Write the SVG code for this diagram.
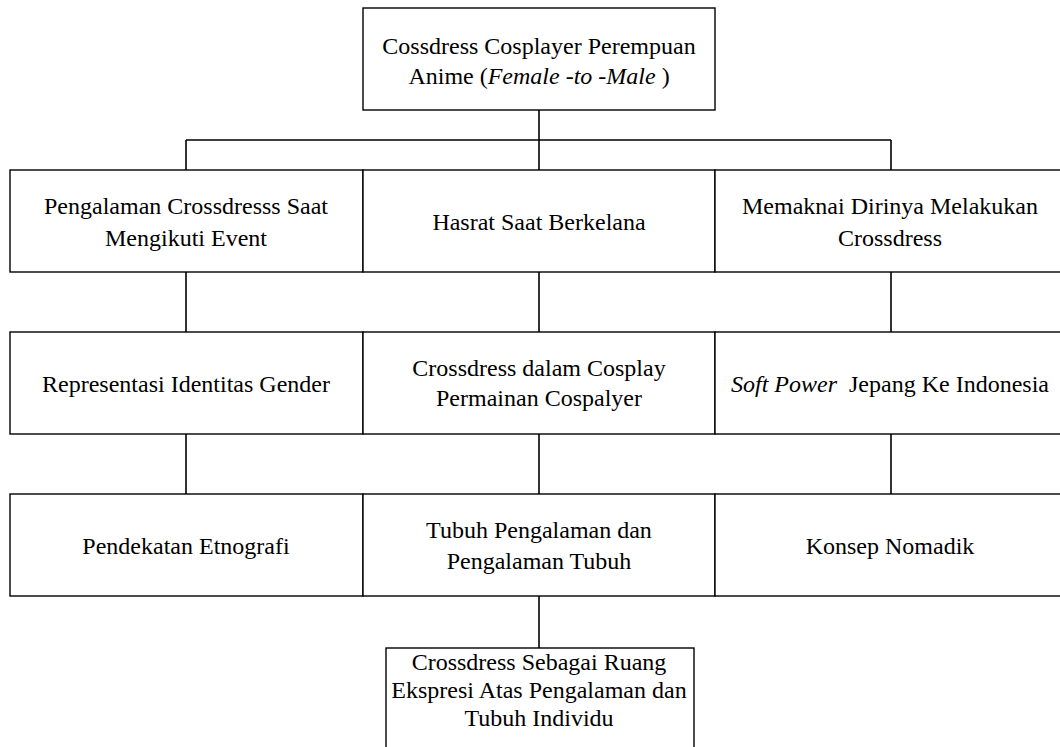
<svg xmlns="http://www.w3.org/2000/svg" width="1060" height="747" viewBox="0 0 1060 747">
<style>
.box{fill:#fff;stroke:#000;stroke-width:1.4}
.ln{stroke:#000;stroke-width:1.6;fill:none}
text{font-family:'Liberation Serif','Times New Roman',serif;font-size:24px;fill:#000;text-anchor:middle}
.i{font-style:italic}
</style>
<rect width="1060" height="747" fill="#fff"/>
<g id="connectors">
<path class="ln" d="M539 110V170M186 140H891M186 140V170M891 140V170"/>
<path class="ln" d="M186 272V332M539 272V332M891 272V332"/>
<path class="ln" d="M186 434V494M539 434V494M891 434V494"/>
<path class="ln" d="M539 596V648"/>
</g>
<g id="n0"><rect class="box" x="363" y="8" width="352" height="102"/>
<text x="539" y="54">Cossdress Cosplayer Perempuan</text>
<text x="539" y="84" xml:space="preserve">Anime (<tspan class="i">Female -to -Male</tspan> )</text></g>
<g id="n1"><rect class="box" x="10" y="170" width="353" height="102"/>
<text x="186" y="214">Pengalaman Crossdresss Saat</text>
<text x="186" y="246">Mengikuti Event</text></g>
<g id="n2"><rect class="box" x="363" y="170" width="352" height="102"/>
<text x="539" y="230">Hasrat Saat Berkelana</text></g>
<g id="n3"><rect class="box" x="715" y="170" width="360" height="102"/>
<text x="890" y="214">Memaknai Dirinya Melakukan</text>
<text x="890" y="246">Crossdress</text></g>
<g id="n4"><rect class="box" x="10" y="332" width="353" height="102"/>
<text x="186" y="392">Representasi Identitas Gender</text></g>
<g id="n5"><rect class="box" x="363" y="332" width="352" height="102"/>
<text x="539" y="376">Crossdress dalam Cosplay</text>
<text x="539" y="406">Permainan Cospalyer</text></g>
<g id="n6"><rect class="box" x="715" y="332" width="360" height="102"/>
<text x="890" y="392" xml:space="preserve"><tspan class="i">Soft Power</tspan>  Jepang Ke Indonesia</text></g>
<g id="n7"><rect class="box" x="10" y="494" width="353" height="102"/>
<text x="186" y="554">Pendekatan Etnografi</text></g>
<g id="n8"><rect class="box" x="363" y="494" width="352" height="102"/>
<text x="539" y="538">Tubuh Pengalaman dan</text>
<text x="539" y="569">Pengalaman Tubuh</text></g>
<g id="n9"><rect class="box" x="715" y="494" width="360" height="102"/>
<text x="890" y="554">Konsep Nomadik</text></g>
<g id="n10"><rect class="box" x="386" y="648" width="308" height="110"/>
<text x="539" y="670">Crossdress Sebagai Ruang</text>
<text x="539" y="698">Ekspresi Atas Pengalaman dan</text>
<text x="539" y="726">Tubuh Individu</text></g>
</svg>
